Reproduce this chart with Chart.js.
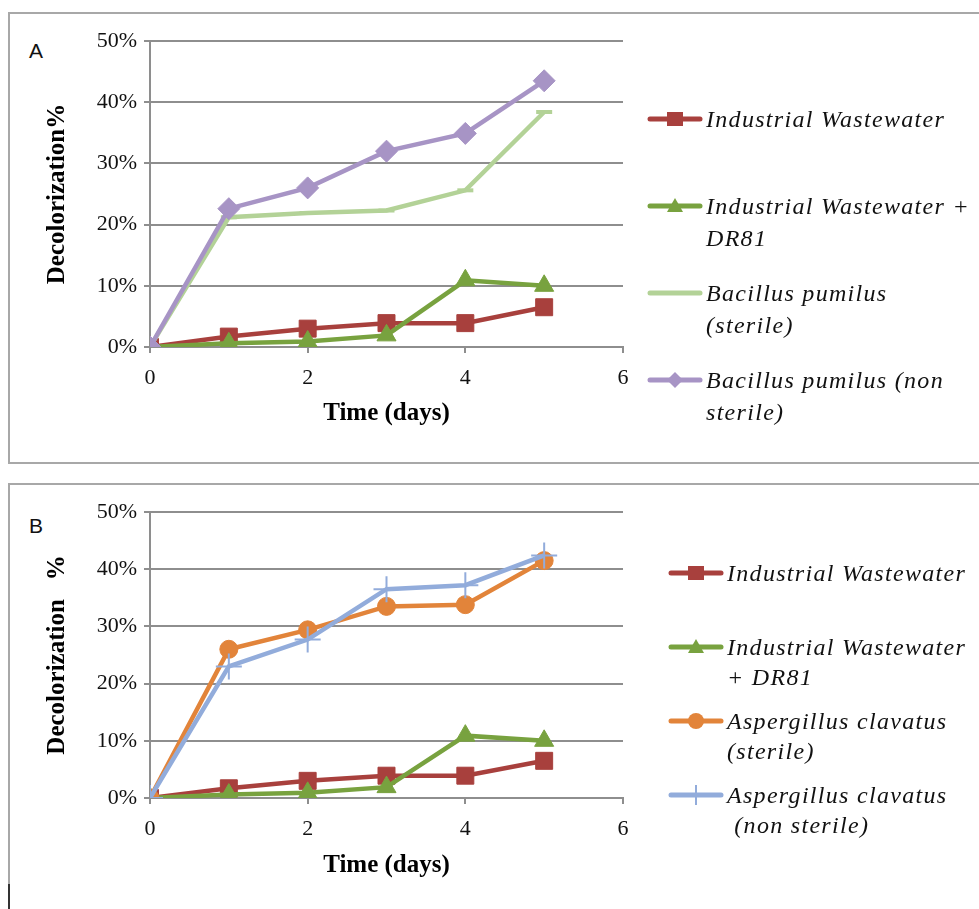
<!DOCTYPE html>
<html>
<head>
<meta charset="utf-8">
<script src="https://cdn.jsdelivr.net/npm/chart.js@4.4.1/dist/chart.umd.min.js"></script>
<style>
body{margin:0;background:#fff;width:979px;height:909px;overflow:hidden;position:relative;font-family:"Liberation Serif",serif;}
.panel{position:absolute;border:2px solid #a8a8a8;box-sizing:border-box;}
#panelA{left:8px;top:12px;width:1000px;height:452px;}
#panelB{left:8px;top:483px;width:1000px;height:460px;}
#mark{position:absolute;left:8px;top:884px;width:2px;height:25px;background:#333;}
.tag{position:absolute;font-family:"Liberation Sans",Arial,sans-serif;font-size:21px;color:#111;}
canvas{position:absolute;left:0;}
.item{position:absolute;font-style:italic;font-size:24px;letter-spacing:1.3px;white-space:pre;color:#111;}
.item svg{position:absolute;left:0;}
.item span{position:absolute;left:59px;top:0;}
</style>
</head>
<body>
<div class="panel" id="panelA"></div>
<div class="panel" id="panelB"></div>
<div id="mark"></div>
<div class="tag" style="left:29px;top:39px;">A</div>
<div class="tag" style="left:29px;top:514px;">B</div>
<canvas id="chartA" width="979" height="470" style="top:0"></canvas>
<canvas id="chartB" width="979" height="439" style="top:470px"></canvas>
<div id="legendA"></div>
<div id="legendB"></div>
<script>
const days = [0, 1, 2, 3, 4, 5];
const xTicks = [0, 2, 4, 6];
const yTicks = [0, 10, 20, 30, 40, 50];

const wastewater = [0, 1.7, 3.0, 3.9, 3.9, 6.5];
const wastewaterDR81 = [0, 0.6, 0.9, 1.9, 10.9, 10.0];
const bacillusSterile = [0, 21.2, 21.9, 22.3, 25.6, 38.4];
const bacillusNonSterile = [0, 22.6, 26.0, 32.0, 34.9, 43.5];
const aspergillusSterile = [0, 26.0, 29.4, 33.5, 33.8, 41.5];
const aspergillusNonSterile = [0, 23.0, 27.7, 36.5, 37.2, 42.4];

const labelsA = ['Industrial Wastewater', 'Industrial Wastewater +\nDR81', 'Bacillus pumilus\n(sterile)', 'Bacillus pumilus (non\nsterile)'];
const labelsB = ['Industrial Wastewater', 'Industrial Wastewater\n+ DR81', 'Aspergillus clavatus\n(sterile)', 'Aspergillus clavatus\n (non sterile)'];

// look of each series
const red = {color: '#a8403d', point: 'rect', radius: 12, pbw: 1};
const green = {color: '#78a23f', point: 'triangle', radius: 11, pbw: 1};
const lightGreen = {color: '#b3d297', point: 'line', radius: 8, pbw: 4};
const purple = {color: '#a794c5', point: 'rectRot', radius: 11, pbw: 1};
const orange = {color: '#e2843a', point: 'circle', radius: 9, pbw: 1};
const blue = {color: '#92acdb', point: 'cross', radius: 13, pbw: 2};

const serif = '"Liberation Serif", "Times New Roman", serif';
const gridColor = '#8e8e8e';

function makeSets(values, styles, labels) {
    return values.map((v, i) => ({
        label: labels[i].replace('\n', ' '),
        data: days.map((d, j) => ({x: d, y: v[j]})),
        borderColor: styles[i].color,
        backgroundColor: styles[i].color,
        borderWidth: 4.5,
        pointStyle: styles[i].point,
        pointRadius: styles[i].radius,
        pointBorderWidth: styles[i].pbw,
        pointBorderColor: styles[i].color,
        pointBackgroundColor: styles[i].color,
        tension: 0,
        order: values.length - i
    }));
}

function makeChart(id, sets, yTitle, padTop, padBottom, xAxisH, titleGap) {
    return new Chart(document.getElementById(id), {
        type: 'line',
        data: {datasets: sets},
        options: {
            responsive: false,
            animation: false,
            layout: {padding: {left: 28, top: padTop, right: 356, bottom: padBottom}},
            plugins: {legend: {display: false}, tooltip: {enabled: false}},
            scales: {
                x: {
                    type: 'linear', min: 0, max: 6,
                    afterBuildTicks: s => { s.ticks = xTicks.map(v => ({value: v})); },
                    afterFit: s => { s.height = xAxisH; },
                    grid: {drawOnChartArea: false, color: gridColor, lineWidth: 2, tickLength: 6},
                    border: {color: gridColor, width: 2},
                    ticks: {font: {family: serif, size: 22}, color: '#111', padding: 12},
                    title: {display: true, text: 'Time (days)', color: '#000',
                        font: {family: serif, size: 25, weight: 'bold'}, padding: {top: 0, bottom: titleGap}}
                },
                y: {
                    min: 0, max: 50,
                    afterBuildTicks: s => { s.ticks = yTicks.map(v => ({value: v})); },
                    afterFit: s => { s.width = 122; },
                    grid: {color: gridColor, lineWidth: 2, tickLength: 6},
                    border: {color: gridColor, width: 2},
                    ticks: {font: {family: serif, size: 22}, color: '#111', padding: 7, callback: v => v + '%'},
                    title: {display: true, text: yTitle, color: '#000',
                        font: {family: serif, size: 25, weight: 'bold'}, padding: {top: 15, bottom: 0}}
                }
            }
        }
    });
}

function icon(st) {
    const c = st.color;
    let m = '';
    if (st.point === 'rect') m = `<rect x="20" y="3" width="16" height="14" fill="${c}"/>`;
    else if (st.point === 'triangle') m = `<polygon points="28,2 36,16 20,16" fill="${c}"/>`;
    else if (st.point === 'rectRot') m = `<polygon points="28,2 36,10 28,18 20,10" fill="${c}"/>`;
    else if (st.point === 'circle') m = `<circle cx="28" cy="10" r="8" fill="${c}"/>`;
    else if (st.point === 'cross') m = `<path d="M28 0V20" stroke="${c}" stroke-width="2"/>`;
    return `<svg width="56" height="20"><line x1="3" y1="10" x2="53" y2="10" stroke="${c}" stroke-width="5" stroke-linecap="round"/>${m}</svg>`;
}

function makeLegend(id, labels, styles, left, top, step, lh) {
    const box = document.getElementById(id);
    labels.forEach((t, i) => {
        const it = document.createElement('div');
        it.className = 'item';
        it.style.left = left + 'px';
        it.style.top = (top + i * step) + 'px';
        it.style.lineHeight = lh + 'px';
        it.innerHTML = icon(styles[i]);
        it.firstChild.style.top = (lh / 2 - 10) + 'px';
        const sp = document.createElement('span');
        sp.textContent = t;
        it.appendChild(sp);
        box.appendChild(it);
    });
}

const stylesA = [red, green, lightGreen, purple];
const stylesB = [red, green, orange, blue];

makeChart('chartA', makeSets([wastewater, wastewaterDR81, bacillusSterile, bacillusNonSterile], stylesA, labelsA),
    'Decolorization%', 41, 30, 93, 11);
makeChart('chartB', makeSets([wastewater, wastewaterDR81, aspergillusSterile, aspergillusNonSterile], stylesB, labelsB),
    'Decolorization   %', 42, 28, 83, 0);

makeLegend('legendA', labelsA, stylesA, 647, 103, 87, 32);
makeLegend('legendB', labelsB, stylesB, 668, 558, 74, 30);
</script>
</body>
</html>
